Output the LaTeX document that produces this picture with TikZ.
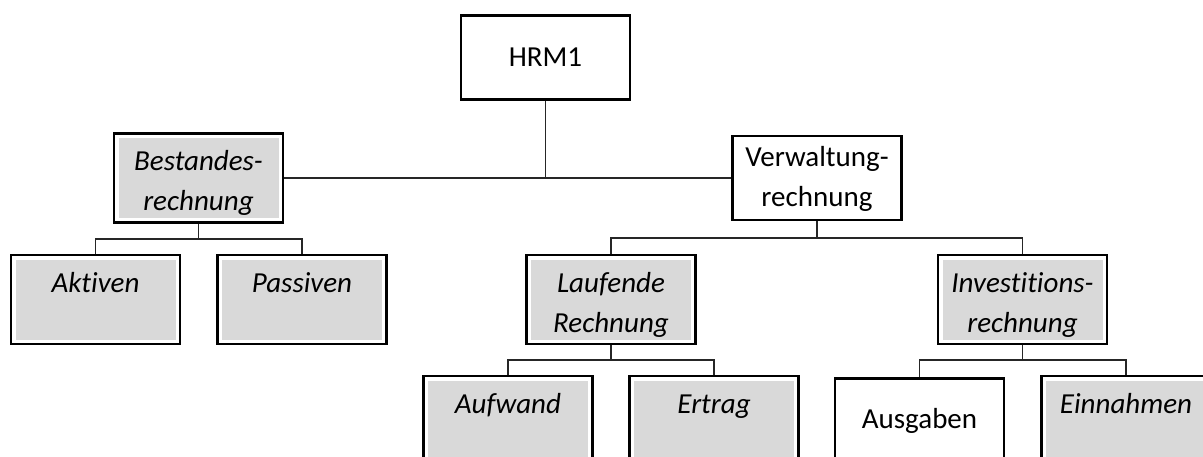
\documentclass[tikz,border=0pt]{standalone}
\usepackage{fontspec}
\setmainfont[Ligatures={NoCommon}]{Carlito}
\definecolor{boxgray}{HTML}{D9D9D9}
\newcommand\tstrut{\rule{0pt}{37pt}}
\begin{document}
\begin{tikzpicture}[x=1pt,y=-1pt,
  base/.style={draw=black, line width=2.2pt, fill=white, minimum width=169pt, minimum height=84pt,
    inner sep=0pt, align=center, font=\fontsize{29}{40}\selectfont},
  plainbox/.style={base},
  graybox/.style={base, font=\fontsize{29}{40}\selectfont\itshape,
    path picture={\fill[boxgray] ([shift={(4.5pt,4.5pt)}]path picture bounding box.south west)
      rectangle ([shift={(-4.5pt,-4.5pt)}]path picture bounding box.north east);}},
  conn/.style={draw=black!85, line width=1.5pt}]
\useasboundingbox (0,0) rectangle (1203,456);
\clip (0,0) rectangle (1203,456);
\node[plainbox] (hrm) at (545.5,57.5) {HRM1};
\node[graybox] (best) at (198.5,178) {\tstrut Bestandes-\\\strut rechnung};
\node[plainbox] (verw) at (817,178) {\strut Verwaltung-\\\strut rechnung};
\node[graybox] (akt) at (95.5,299.5) {\tstrut Aktiven\\\strut};
\node[graybox] (pas) at (302,299.5) {\tstrut Passiven\\\strut};
\node[graybox] (lauf) at (611,299.5) {\tstrut Laufende\\\strut Rechnung};
\node[graybox] (inv) at (1022.5,299.5) {\tstrut Investitions-\\\strut rechnung};
\node[graybox] (aufw) at (508,420.5) {\tstrut Aufwand\\\strut};
\node[graybox] (ertr) at (714,420.5) {\tstrut Ertrag\\\strut};
\node[plainbox] (ausg) at (919.5,420.5) {Ausgaben};
\node[graybox] (einn) at (1126,420.5) {\tstrut Einnahmen\\\strut};
% level 1
\draw[conn] (best.east) -- (verw.west);
\draw[conn] (hrm.south) -- (hrm.south |- best.east);
% Bestandesrechnung
\coordinate (jb) at (best.south |- 0,239);
\draw[conn] (best.south) -- (jb);
\draw[conn] (akt.north) |- (jb) -| (pas.north);
% Verwaltungrechnung
\coordinate (jv) at (verw.south |- 0,238);
\draw[conn] (verw.south) -- (jv);
\draw[conn] (lauf.north) |- (jv) -| (inv.north);
% Laufende Rechnung
\coordinate (jl) at (lauf.south |- 0,360);
\draw[conn] (lauf.south) -- (jl);
\draw[conn] (aufw.north) |- (jl) -| (ertr.north);
% Investitionsrechnung
\coordinate (ji) at (inv.south |- 0,360);
\draw[conn] (inv.south) -- (ji);
\draw[conn] (ausg.north) |- (ji) -| (einn.north);
\end{tikzpicture}
\end{document}
